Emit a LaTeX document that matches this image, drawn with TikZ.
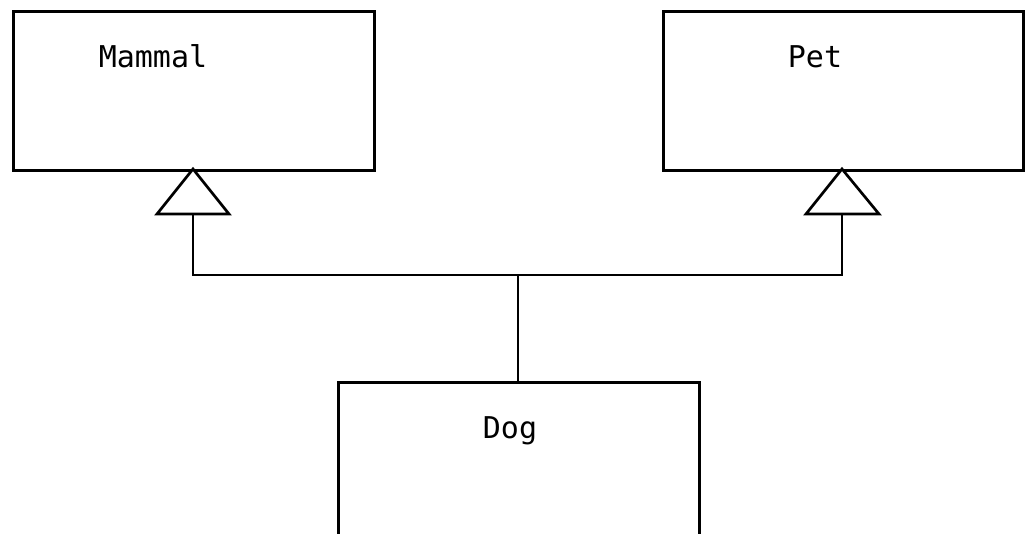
\documentclass[tikz,border=0pt]{standalone}
\usepackage{fontspec}
\setmonofont{DejaVu Sans Mono}
\begin{document}
\begin{tikzpicture}[x=0.75pt,y=-0.75pt,
  cls/.style={draw=black,line width=2pt,fill=white,inner sep=0pt,anchor=north west},
  lbl/.style={font=\ttfamily\fontsize{22.5pt}{27pt}\selectfont,anchor=base,inner sep=0pt},
  conn/.style={draw=black,line width=2pt,line join=miter},
  gen/.style={draw=black,line width=2pt,fill=white,line join=miter}]
\clip (0,0) rectangle (1026,534);
\fill[white] (0,0) rectangle (1026,534);
% boxes
\node[cls,minimum width=361*0.75pt,minimum height=159*0.75pt] (mammal) at (12,10) {};
\node[cls,minimum width=360*0.75pt,minimum height=159*0.75pt] (pet) at (662,10) {};
\node[cls,minimum width=361*0.75pt,minimum height=200*0.75pt] (dog) at (337,381) {};
% labels
\node[lbl] (mammaltxt) at (153,68) {Mammal};
\node[lbl] (pettxt) at (815,68) {Pet};
\node[lbl] (dogtxt) at (510,439) {Dog};
% coordinates
\coordinate (mtip) at (193,169);
\coordinate (mbase) at (193,214);
\coordinate (ptip) at (842,169);
\coordinate (pbase) at (842,214);
\coordinate (mj) at (193,275);
\coordinate (pj) at (842,275);
\coordinate (dj) at (518,275);
\coordinate (dtop) at (518,381);
% connectors
\draw[conn] (mbase) -- (mj) -- (pj) -- (pbase);
\draw[conn] (dj) -- (dtop);
% generalization triangles
\draw[gen] (mtip) -- (157,214) -- (229,214) -- cycle;
\draw[gen] (ptip) -- (806,214) -- (879,214) -- cycle;
\end{tikzpicture}
\end{document}
